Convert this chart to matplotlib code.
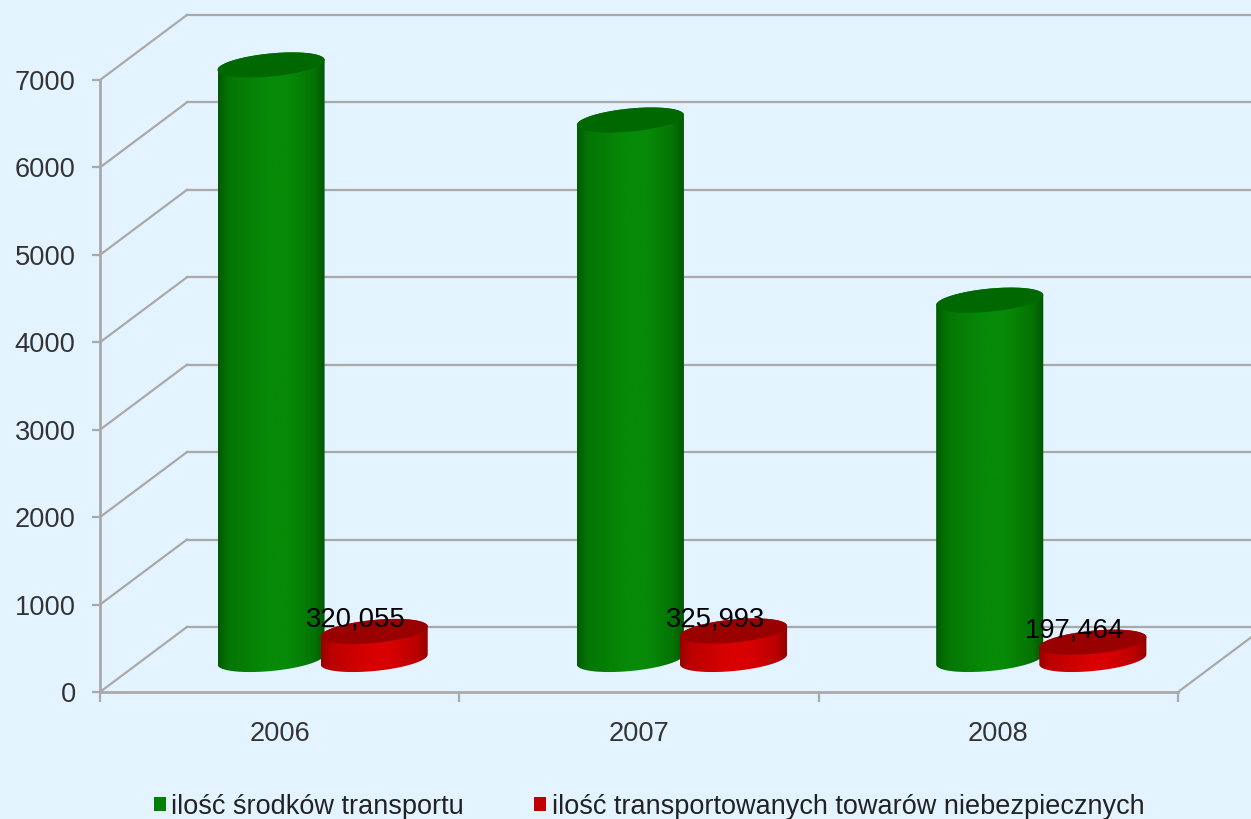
import numpy as np
import matplotlib
matplotlib.use("Agg")
import matplotlib.pyplot as pl
from matplotlib.patches import Patch, Polygon

years = ["2006", "2007", "2008"]
transport_means = [6800, 6170, 4110]
dangerous_goods = [320.055, 325.993, 197.464]
y_ticks = [0, 1000, 2000, 3000, 4000, 5000, 6000, 7000]
legend_labels = ["ilość środków transportu", "ilość transportowanych towarów niebezpiecznych"]

BG = "#E3F3FF"
GRID = "#A9A9A9"
TEXT = "#333333"

# fake 3d: depth of the box in data units
DEPTH_X = 0.242
DEPTH_Y = 744
BAR_W = 0.149
ELL_B = 132
ELL_SHEAR = 57

pl.rc("font", family=["Liberation Sans", "DejaVu Sans"], size=19.6)

fig = pl.figure(figsize=(12.51, 8.19), dpi=100, facecolor=BG)
ax = fig.add_axes([100 / 1251, 1 - 692 / 819, 1078 / 1251, 612 / 819])
ax.set_facecolor("none")
ax.set_xlim(0, 3)
ax.set_ylim(0, 7000)


def ellipse_xy(cx, cy, t):
    return cx + BAR_W * np.cos(t), cy + ELL_B * np.sin(t) + ELL_SHEAR * np.cos(t)


def shade(dark, bright):
    pos = np.array([0.0, 0.1, 0.45, 0.65, 0.9, 1.0])
    mix = np.array([0.2, 0.65, 1.0, 1.0, 0.6, 0.1])
    t = np.interp(np.linspace(0, 1, 128), pos, mix)
    dark = np.array(matplotlib.colors.to_rgb(dark))
    bright = np.array(matplotlib.colors.to_rgb(bright))
    return (dark + (bright - dark) * t[:, None])[None, :, :]


def cylinder(cx, value, dark, bright, top_color):
    base = DEPTH_Y / 2
    top = base + value
    t_low = np.linspace(np.pi, 2 * np.pi, 60)
    t_up = np.linspace(0, np.pi, 60)
    # y axis points up, so the lower half of the ellipse is sin < 0
    xl, yl = ellipse_xy(cx, base, t_low)
    xu, yu = ellipse_xy(cx, top, t_up)
    body = Polygon(np.column_stack([np.r_[xl, xu], np.r_[yl, yu]]), closed=True,
                   transform=ax.transData)
    img = ax.imshow(shade(dark, bright), extent=(cx - BAR_W, cx + BAR_W, base - 300, top + 300),
                    aspect="auto", zorder=3, interpolation="bilinear")
    img.set_clip_path(body)
    img.set_clip_box(fig.bbox)
    tt = np.linspace(0, 2 * np.pi, 120)
    xt, yt = ellipse_xy(cx, top, tt)
    ax.add_patch(Polygon(np.column_stack([xt, yt]), closed=True, facecolor=top_color,
                         edgecolor="none", clip_on=False, zorder=4))


# back wall lines and the floor edges
for v in y_ticks:
    ax.plot([0, DEPTH_X], [v, v + DEPTH_Y], color=GRID, lw=1.6, clip_on=False, zorder=1)
    ax.plot([DEPTH_X, 3 + DEPTH_X], [v + DEPTH_Y, v + DEPTH_Y], color=GRID, lw=1.6,
            clip_on=False, zorder=1)
ax.plot([3, 3 + DEPTH_X], [0, DEPTH_Y], color=GRID, lw=1.6, clip_on=False, zorder=1)

for i, year in enumerate(years):
    cylinder(i + 0.476, transport_means[i], "#004F00", "#078A07", "#006800")
    cylinder(i + 0.763, dangerous_goods[i], "#8A0000", "#D80000", "#990000")
    ax.annotate(f"{dangerous_goods[i]:.3f}".replace(".", ","),
                xy=(i + 0.763, DEPTH_Y / 2 + dangerous_goods[i]),
                xytext=(-13, 8.5), textcoords="offset points",
                ha="center", va="center", color="#000000", fontsize=19.8, zorder=6)

ax.set_xlim(0, 3)
ax.set_ylim(0, 7000)

for side in ["top", "right"]:
    ax.spines[side].set_visible(False)
for side in ["left", "bottom"]:
    ax.spines[side].set_color(GRID)
    ax.spines[side].set_linewidth(2)

ax.set_yticks(y_ticks)
ax.set_xticks([0, 1, 2, 3])
ax.set_xticklabels([])
ax.set_xticks([0.5, 1.5, 2.5], minor=True)
ax.set_xticklabels(years, minor=True)
ax.tick_params(axis="y", length=6, width=1.6, color=GRID, labelcolor=TEXT, pad=11.5)
ax.tick_params(axis="x", which="major", length=7, width=1.6, color=GRID)
ax.tick_params(axis="x", which="minor", length=0, labelcolor=TEXT, pad=21)

handles = [Patch(facecolor="#008000", edgecolor="none"), Patch(facecolor="#C00000", edgecolor="none")]
fig.legend(handles, legend_labels, loc="center", bbox_to_anchor=(649 / 1251, 1 - 806.5 / 819),
           ncol=2, frameon=False, fontsize=19.5, labelcolor="#222222", handlelength=0.45,
           handleheight=0.45, handletextpad=0.2, columnspacing=2.6, borderpad=0)

fig.savefig("out.png", dpi=100, facecolor=BG)
